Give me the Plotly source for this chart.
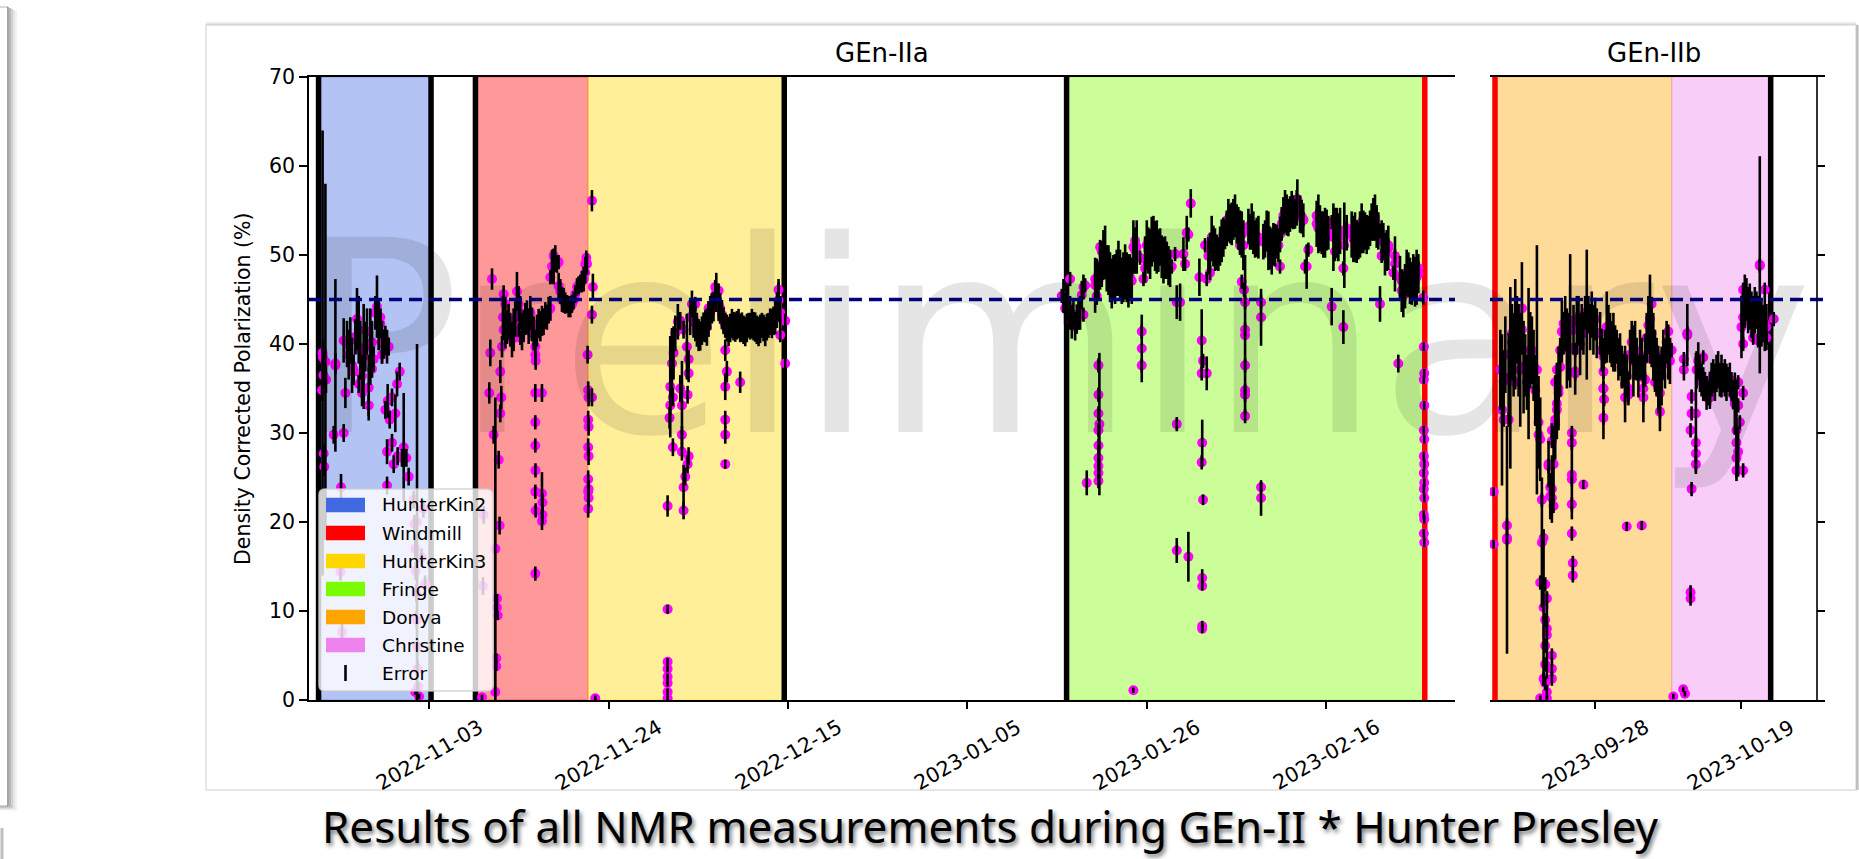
import pandas as pd
import plotly.graph_objects as go

# ------------------------------------------------------------------
# NMR polarization measurements, grouped by target cell.
# Each entry: (days after the run reference date, polarization %, error %)
# ------------------------------------------------------------------
REF_A = pd.Timestamp("2022-11-03")   # GEn-IIa reference date
REF_B = pd.Timestamp("2023-09-28")   # GEn-IIb reference date

hunterkin2 = [
    (-12.56, 34.8, 1.2), (-12.50, 39.0, 25.0), (-12.45, 38.5, 2.0), (-12.40, 36.5, 1.5),
    (-12.37, 27.7, 1.0), (-12.30, 26.2, 1.0), (-12.17, 38.0, 20.0), (-12.10, 36.0, 1.5),
    (-11.20, 29.8, 1.0), (-11.00, 37.6, 9.7), (-11.00, 37.8, 1.2), (-10.34, 23.9, 1.5),
    (-10.22, 7.6, 1.0), (-10.40, 14.4, 1.0), (-10.03, 30.0, 1.0), (-9.83, 34.5, 1.7),
    (-10.03, 40.4, 2.5), (-9.64, 40.0, 2.6), (-9.44, 38.8, 2.8), (-9.25, 40.4, 2.6),
    (-9.05, 37.6, 3.1), (-8.86, 37.1, 1.7), (-8.66, 40.8, 2.0), (-8.47, 42.8, 3.5),
    (-8.27, 41.6, 3.8), (-8.08, 39.3, 3.3), (-7.88, 36.4, 2.4), (-7.69, 38.6, 5.9),
    (-7.49, 39.7, 2.8), (-7.30, 41.4, 2.6), (-7.10, 35.1, 3.7), (-6.91, 39.7, 4.3),
    (-6.71, 40.2, 2.4), (-6.52, 38.3, 1.4), (-6.32, 43.5, 1.9), (-6.13, 44.2, 3.5),
    (-5.93, 42.1, 2.8), (-5.74, 42.3, 1.65), (-5.54, 40.2, 2.4), (-5.35, 40.0, 1.65),
    (-5.15, 40.4, 1.65), (-4.95, 39.7, 1.9), (-8.86, 36.9, 1.0), (-8.27, 35.5, 1.0),
    (-7.88, 34.5, 1.5), (-7.10, 33.1, 1.2), (-6.71, 37.2, 1.0), (-5.74, 43.0, 1.0),
    (-5.54, 38.8, 1.0), (-4.76, 39.7, 1.0), (-5.15, 32.6, 1.0), (-4.88, 33.6, 1.9),
    (-4.64, 31.5, 1.0), (-4.37, 34.0, 1.0), (-3.98, 32.2, 2.1), (-3.78, 35.5, 1.4),
    (-3.47, 36.9, 1.0), (-4.95, 27.9, 1.4), (-4.37, 28.9, 1.0), (-4.17, 26.5, 1.0),
    (-3.71, 27.4, 1.0), (-3.20, 27.2, 1.0), (-3.00, 28.4, 6.1), (-2.69, 27.2, 1.0),
    (-2.42, 25.1, 1.0), (-4.95, 24.1, 1.0), (-1.44, 20.0, 20.0), (-1.83, 22.5, 1.0),
    (-1.75, 19.8, 1.0), (-1.64, 17.0, 1.0), (-1.60, 14.5, 1.0), (-1.52, 12.0, 1.0),
    (-1.48, 9.0, 1.0), (-1.40, 6.0, 1.0), (-1.37, 3.5, 1.0), (-1.30, 1.5, 0.5),
    (-1.20, 0.4, 0.3), (-1.64, 0.9, 0.3), (-0.90, 16.0, 1.0), (-0.70, 21.5, 1.0),
    (-0.50, 13.0, 1.0),
]

windmill = [
    (6.17, 0.3, 0.3), (6.28, 12.8, 1.0), (6.36, 20.8, 1.0), (7.02, 34.5, 1.2),
    (7.14, 39.0, 1.5), (7.34, 47.3, 1.2), (7.53, 29.8, 1.0), (7.73, 17.0, 17.0),
    (7.84, 4.7, 0.5), (7.84, 3.8, 0.5), (7.73, 0.9, 0.3), (7.92, 11.4, 0.5),
    (7.92, 10.4, 0.5), (8.00, 9.5, 0.5), (8.12, 27.0, 1.0), (8.23, 19.6, 1.0),
    (8.31, 36.9, 1.3), (8.43, 34.0, 1.3), (8.31, 32.2, 1.0), (8.51, 39.7, 1.2),
    (8.70, 41.6, 1.2), (8.70, 45.6, 1.0), (8.62, 43.0, 2.4), (8.90, 41.6, 2.1),
    (9.09, 41.9, 1.9), (9.28, 42.5, 2.0), (9.48, 41.6, 1.9), (9.68, 40.5, 2.0),
    (9.87, 41.6, 2.4), (10.07, 42.8, 2.0), (10.26, 45.9, 2.2), (10.46, 44.5, 2.0),
    (10.65, 43.5, 1.9), (10.85, 41.4, 2.1), (11.04, 42.0, 1.8), (11.24, 42.8, 1.8),
    (11.43, 43.0, 1.9), (11.63, 42.0, 2.0), (11.82, 43.5, 1.9), (12.02, 42.2, 1.9),
    (12.21, 41.2, 1.9), (12.41, 39.7, 1.9), (12.60, 41.5, 1.8), (12.80, 42.3, 1.65),
    (13.00, 42.0, 1.7), (13.19, 42.6, 1.7), (13.38, 42.5, 1.5), (13.58, 43.2, 1.5),
    (13.77, 43.0, 1.4), (13.97, 43.8, 1.5), (14.17, 44.0, 1.4), (14.36, 48.7, 1.9),
    (14.56, 48.7, 2.0), (14.75, 49.6, 1.5), (14.94, 49.0, 1.0), (15.14, 46.5, 1.5),
    (15.34, 45.9, 1.4), (15.53, 45.0, 1.4), (15.73, 44.9, 1.4), (15.92, 44.6, 1.2),
    (16.12, 44.5, 1.0), (16.31, 44.2, 1.2), (16.51, 44.2, 1.2), (16.70, 44.5, 1.0),
    (16.90, 44.9, 1.0), (17.09, 45.6, 1.0), (17.29, 46.4, 1.0), (17.48, 46.6, 1.0),
    (17.68, 46.8, 1.0), (17.87, 47.0, 1.2), (18.07, 47.3, 1.4), (18.26, 48.0, 1.2),
    (18.46, 49.0, 1.2), (12.41, 38.8, 1.0), (12.45, 38.1, 1.0), (12.41, 34.5, 1.0),
    (12.41, 31.2, 0.8), (12.41, 28.6, 0.8), (12.43, 25.8, 0.8), (12.41, 23.4, 0.8),
    (12.45, 21.3, 0.8), (12.41, 14.2, 0.8), (13.19, 34.5, 1.0), (13.19, 23.2, 2.4),
    (13.25, 22.2, 1.0), (13.25, 20.8, 1.0), (13.19, 20.1, 1.0), (8.90, 44.5, 0.8),
    (9.09, 41.6, 0.8), (9.87, 40.7, 0.8), (10.46, 41.6, 0.8), (10.65, 40.7, 0.8),
    (11.82, 43.5, 0.8), (12.02, 41.2, 0.8), (13.77, 43.5, 0.8), (14.17, 47.5, 0.8),
    (14.56, 49.9, 0.8), (15.14, 49.2, 0.8), (15.92, 44.7, 0.8), (16.70, 44.5, 0.8),
    (17.48, 46.4, 0.8), (18.07, 47.3, 0.8), (18.26, 49.0, 0.8), (18.38, 49.7, 0.8),
]

hunterkin3 = [
    (18.53, 38.8, 1.0), (18.60, 34.8, 1.0), (18.65, 34.0, 1.0), (18.60, 31.5, 1.0),
    (18.65, 30.7, 1.0), (18.60, 28.4, 1.0), (18.65, 27.4, 1.0), (18.60, 24.8, 1.0),
    (18.65, 23.7, 1.0), (18.60, 23.4, 1.0), (18.65, 22.7, 1.0), (18.60, 21.5, 1.0),
    (19.04, 56.1, 1.2), (19.15, 46.4, 1.5), (19.04, 43.3, 1.0), (19.04, 34.0, 1.0),
    (19.43, 0.2, 0.3), (27.90, 21.8, 1.2), (27.90, 10.2, 0.5), (27.90, 4.3, 0.4),
    (27.90, 3.5, 0.4), (27.90, 2.6, 0.4), (27.90, 1.9, 0.4), (27.90, 0.9, 0.4),
    (27.90, 0.2, 0.3), (28.13, 31.7, 1.2), (28.21, 33.1, 1.0), (28.21, 35.2, 5.7),
    (28.52, 34.0, 1.0), (28.41, 37.8, 4.0), (28.60, 39.0, 3.0), (28.80, 41.2, 2.0),
    (28.52, 28.4, 1.0), (29.58, 29.8, 1.0), (29.58, 27.9, 1.0), (30.36, 27.4, 1.0),
    (30.24, 26.5, 1.0), (29.97, 25.1, 1.0), (29.77, 23.9, 2.5), (29.77, 21.3, 1.0),
    (29.38, 35.0, 1.5), (29.58, 33.1, 5.0), (30.24, 34.3, 1.0), (30.36, 36.7, 1.0),
    (30.36, 38.3, 1.0), (30.16, 39.7, 3.7), (29.77, 41.6, 1.0), (29.38, 42.6, 1.0),
    (29.10, 42.5, 2.0), (30.75, 44.5, 1.5), (30.55, 43.0, 2.0), (30.94, 42.8, 2.1),
    (31.14, 42.3, 2.0), (31.33, 41.6, 1.9), (31.53, 41.0, 1.8), (31.72, 40.9, 1.65),
    (31.92, 41.5, 1.6), (32.11, 41.9, 1.65), (32.31, 42.0, 1.8), (32.50, 41.9, 2.1),
    (32.70, 42.8, 2.0), (32.89, 43.5, 1.9), (33.09, 44.0, 1.7), (33.28, 44.2, 1.65),
    (33.48, 45.5, 1.6), (33.60, 45.8, 2.2), (33.87, 44.5, 1.9), (34.06, 44.0, 1.7),
    (34.26, 43.3, 1.65), (34.45, 42.6, 1.5), (34.65, 42.1, 1.4), (34.84, 41.8, 1.5),
    (35.04, 41.4, 1.65), (35.23, 41.8, 1.6), (35.43, 42.3, 1.65), (35.62, 42.0, 1.6),
    (35.82, 41.9, 1.65), (36.01, 42.1, 1.6), (36.21, 42.3, 1.65), (36.40, 41.8, 1.6),
    (36.60, 41.9, 1.65), (36.79, 41.6, 1.6), (36.99, 41.4, 1.65), (37.18, 41.8, 1.6),
    (37.38, 42.1, 1.4), (37.57, 42.0, 1.5), (37.77, 42.3, 1.65), (37.96, 42.0, 1.6),
    (38.16, 41.9, 1.65), (38.35, 41.6, 1.6), (38.55, 41.4, 1.65), (38.74, 41.7, 1.6),
    (38.94, 42.1, 1.4), (39.13, 41.8, 1.5), (39.33, 41.4, 1.65), (39.52, 41.9, 1.5),
    (39.72, 42.1, 1.4), (39.91, 42.5, 1.5), (40.11, 42.3, 1.65), (40.30, 42.6, 1.6),
    (40.50, 43.0, 1.9), (40.70, 43.8, 2.0), (40.89, 44.9, 2.4), (41.09, 43.5, 1.9),
    (31.14, 44.5, 0.8), (32.70, 44.0, 0.8), (33.48, 46.4, 0.8), (33.87, 46.0, 0.8),
    (34.45, 42.6, 0.8), (34.84, 41.6, 0.8), (34.65, 39.3, 1.2), (34.84, 36.9, 1.2),
    (34.65, 35.2, 1.5), (34.65, 31.5, 1.0), (34.65, 29.8, 1.0), (34.65, 26.5, 0.5),
    (36.40, 35.7, 1.2), (40.89, 46.1, 0.8), (41.67, 42.6, 0.8), (41.67, 37.8, 0.8),
    (41.09, 41.0, 0.8),
]

fringe = [
    (74.06, 45.4, 0.8), (74.25, 45.4, 1.9), (74.45, 44.0, 1.8), (74.64, 44.5, 1.9),
    (74.84, 43.5, 1.8), (75.03, 43.5, 1.9), (75.23, 42.5, 1.9), (75.42, 43.3, 1.65),
    (75.62, 42.0, 1.6), (75.81, 42.8, 1.65), (76.01, 43.3, 1.7), (76.20, 43.5, 1.9),
    (76.40, 45.5, 1.6), (76.59, 46.4, 1.4), (75.03, 47.3, 0.8), (76.59, 43.3, 0.8),
    (76.79, 46.6, 0.8), (76.98, 24.4, 1.4), (77.96, 47.3, 0.8), (78.15, 45.4, 0.8),
    (78.35, 37.6, 0.8), (78.35, 34.3, 0.8), (78.35, 32.2, 0.8), (78.35, 30.3, 0.8),
    (78.35, 28.6, 0.8), (78.35, 27.2, 0.8), (78.35, 26.3, 0.8), (78.35, 25.5, 0.8),
    (78.35, 24.6, 0.8), (78.46, 31.0, 8.0), (77.96, 46.6, 3.1), (78.15, 47.0, 2.6),
    (78.35, 47.1, 2.1), (78.54, 48.5, 2.4), (78.74, 49.0, 2.6), (78.93, 50.0, 2.8),
    (79.13, 50.3, 3.0), (79.32, 48.5, 2.6), (79.52, 48.3, 2.8), (79.71, 47.5, 2.8),
    (79.91, 46.8, 2.8), (80.10, 47.5, 2.5), (80.30, 47.3, 2.8), (80.49, 48.0, 2.6),
    (80.69, 48.5, 3.1), (80.88, 47.8, 2.8), (81.08, 47.1, 2.6), (81.27, 47.5, 2.8),
    (81.47, 48.1, 3.1), (81.66, 47.5, 2.8), (81.86, 47.1, 3.0), (82.05, 47.5, 2.6),
    (82.25, 47.1, 2.6), (82.44, 50.9, 3.0), (82.64, 50.5, 2.6), (82.83, 50.9, 3.0),
    (83.42, 39.5, 3.8), (83.42, 41.4, 0.8), (83.42, 37.6, 0.8), (82.64, 51.6, 0.8),
    (83.22, 49.7, 0.8), (83.62, 47.3, 0.8), (78.54, 50.9, 0.8), (78.74, 50.4, 0.8),
    (80.10, 48.3, 0.8), (82.44, 1.1, 0.3), (83.81, 49.5, 2.6), (84.01, 51.1, 2.8),
    (84.20, 50.5, 2.6), (84.40, 50.1, 2.8), (84.59, 51.5, 2.8), (84.79, 51.8, 2.6),
    (84.98, 51.0, 2.8), (85.18, 50.9, 3.0), (85.37, 50.5, 2.4), (85.57, 50.9, 2.1),
    (85.76, 49.8, 2.4), (85.96, 49.4, 2.6), (86.15, 49.7, 2.4), (86.35, 49.4, 2.1),
    (86.55, 48.8, 2.2), (86.74, 48.5, 2.1), (83.81, 48.5, 0.8), (84.20, 51.6, 0.8),
    (85.57, 49.7, 0.8), (86.93, 48.7, 0.8), (87.32, 50.1, 0.8), (87.52, 44.7, 1.9),
    (87.52, 31.0, 0.8), (87.52, 16.8, 1.4), (87.91, 44.7, 2.1), (88.30, 50.1, 1.9),
    (88.49, 49.0, 0.8), (88.69, 52.5, 1.9), (88.88, 52.3, 0.8), (88.88, 16.1, 2.8),
    (89.16, 55.8, 1.6), (90.17, 47.5, 2.1), (90.44, 40.4, 3.5), (90.60, 38.1, 0.8),
    (90.44, 36.7, 0.8), (90.50, 28.9, 2.6), (90.44, 26.7, 0.8), (90.60, 22.5, 0.6),
    (90.50, 13.7, 1.0), (90.50, 12.8, 0.5), (90.50, 8.3, 0.6), (90.50, 8.0, 0.5),
    (91.03, 36.7, 1.9), (90.83, 51.1, 0.8), (91.03, 47.3, 0.8), (91.22, 49.9, 2.1),
    (91.42, 50.5, 2.0), (91.61, 52.0, 2.4), (91.81, 51.0, 2.3), (92.00, 50.6, 2.4),
    (92.20, 50.3, 2.0), (92.39, 50.1, 1.9), (92.59, 51.0, 2.2), (92.78, 51.6, 2.4),
    (92.98, 52.0, 2.2), (93.17, 52.3, 1.65), (93.37, 53.0, 2.0), (93.56, 53.9, 2.4),
    (93.76, 53.5, 2.2), (93.95, 53.5, 2.4), (94.15, 54.0, 2.3), (94.34, 54.4, 2.4),
    (94.54, 53.5, 2.2), (94.73, 53.0, 2.4), (94.93, 52.5, 2.5), (95.13, 52.3, 2.6),
    (95.32, 51.1, 2.8), (91.42, 48.0, 0.8), (91.61, 50.1, 0.8), (92.98, 52.3, 0.8),
    (93.37, 53.9, 0.8), (94.93, 51.1, 0.8), (95.13, 47.0, 0.8), (95.40, 46.1, 0.8),
    (95.52, 44.7, 0.8), (95.52, 41.6, 0.8), (95.52, 37.6, 0.8), (95.52, 34.8, 0.8),
    (95.52, 34.3, 0.8), (95.52, 31.9, 0.8), (95.52, 41.0, 9.0), (95.91, 53.2, 2.0),
    (96.10, 52.6, 2.0), (96.30, 53.2, 2.6), (96.49, 52.5, 2.4), (96.69, 51.8, 2.1),
    (96.88, 52.0, 2.2), (97.08, 52.0, 2.4), (97.39, 43.0, 3.2), (97.39, 44.7, 0.8),
    (97.39, 23.9, 0.6), (97.39, 22.7, 2.0), (97.66, 51.5, 2.0), (97.86, 51.8, 2.1),
    (98.05, 52.7, 2.3), (98.25, 51.6, 3.3), (98.44, 50.8, 2.4), (98.64, 50.4, 2.6),
    (98.83, 51.2, 2.4), (99.03, 51.1, 2.4), (99.22, 51.5, 1.9), (99.42, 51.1, 1.9),
    (99.61, 52.3, 2.0), (99.81, 53.5, 1.9), (100.00, 54.4, 2.1), (100.20, 54.9, 2.4),
    (100.39, 54.5, 2.3), (100.59, 54.2, 2.1), (100.78, 54.6, 2.0), (100.98, 55.1, 2.1),
    (101.17, 54.8, 1.9), (101.37, 54.6, 1.65), (101.56, 55.3, 2.0), (101.64, 56.3, 2.2),
    (101.95, 54.6, 2.1), (102.15, 54.3, 1.9), (102.34, 53.9, 1.9), (102.73, 48.7, 2.5),
    (98.05, 52.7, 0.8), (99.61, 48.7, 0.8), (102.34, 54.0, 0.8), (102.54, 48.7, 0.8),
    (102.93, 50.6, 0.8), (103.90, 53.5, 2.6), (104.10, 53.5, 3.3), (104.29, 53.0, 2.6),
    (104.49, 52.5, 2.4), (104.68, 52.3, 2.6), (104.88, 52.5, 2.8), (105.07, 52.8, 2.3),
    (105.27, 52.5, 1.9), (105.66, 44.2, 2.1), (105.86, 52.0, 3.8), (106.05, 52.3, 3.0),
    (106.25, 52.5, 2.8), (106.44, 52.0, 2.7), (106.64, 52.7, 2.6), (107.03, 41.9, 1.9),
    (107.14, 51.1, 4.8), (107.42, 52.5, 2.0), (103.90, 54.4, 0.8), (104.10, 53.0, 0.8),
    (105.66, 53.7, 0.8), (106.05, 50.4, 0.8), (107.03, 48.5, 0.8), (107.42, 53.0, 0.8),
    (108.00, 52.3, 2.6), (108.20, 51.8, 2.6), (108.39, 52.0, 2.8), (108.59, 51.5, 2.4),
    (108.78, 51.6, 2.1), (108.98, 52.3, 2.6), (109.17, 53.0, 2.8), (109.37, 52.6, 2.4),
    (109.56, 52.7, 2.1), (109.76, 52.3, 2.2), (109.95, 52.5, 1.9), (110.15, 53.0, 2.0),
    (110.34, 53.7, 2.1), (110.54, 54.0, 2.4), (110.73, 54.2, 2.6), (110.93, 53.2, 2.4),
    (111.12, 52.7, 2.1), (111.32, 44.5, 2.0), (111.51, 52.0, 1.9), (111.71, 51.5, 2.1),
    (111.90, 50.1, 2.4), (112.10, 50.5, 2.3), (112.29, 50.8, 2.5), (108.98, 53.5, 0.8),
    (110.73, 53.9, 0.8), (111.32, 52.7, 0.8), (111.51, 49.9, 0.8), (112.29, 51.1, 0.8),
    (112.88, 48.0, 0.8), (113.07, 49.9, 0.8), (113.07, 49.0, 3.1), (113.46, 37.8, 1.0),
    (113.66, 47.5, 2.4), (113.86, 46.0, 2.4), (114.05, 45.6, 2.6), (114.25, 46.5, 2.5),
    (114.44, 48.0, 2.6), (114.64, 47.8, 2.5), (114.83, 47.1, 2.6), (115.03, 46.8, 2.4),
    (115.22, 47.5, 2.6), (115.42, 47.0, 2.8), (115.61, 47.5, 3.1), (115.81, 47.9, 2.2),
    (113.86, 47.1, 0.8), (114.25, 45.6, 0.8), (115.81, 48.5, 0.8), (116.39, 45.2, 0.8),
    (116.45, 39.7, 0.5), (116.50, 36.7, 0.5), (116.45, 36.0, 0.5), (116.50, 33.1, 0.5),
    (116.45, 30.3, 0.5), (116.50, 29.3, 0.5), (116.45, 27.4, 0.5), (116.50, 26.5, 0.5),
    (116.45, 25.5, 0.5), (116.50, 24.4, 0.5), (116.45, 23.7, 0.5), (116.50, 22.7, 0.5),
    (116.45, 20.8, 0.5), (116.50, 20.3, 0.5), (116.45, 18.7, 0.5), (116.50, 17.7, 0.5),
]

donya = [
    (-14.62, 23.4, 0.5), (-14.62, 17.5, 0.5), (-13.66, 37.1, 4.5), (-13.42, 32.6, 8.5),
    (-13.18, 35.8, 3.5), (-12.94, 38.8, 4.3), (-12.70, 18.0, 12.8), (-12.46, 36.2, 5.0),
    (-12.22, 36.2, 10.2), (-11.98, 40.2, 4.3), (-11.75, 38.8, 4.7), (-11.51, 41.9, 5.4),
    (-11.27, 41.6, 3.8), (-11.03, 39.3, 5.2), (-10.79, 37.1, 6.4), (-10.55, 44.0, 5.2),
    (-10.31, 37.4, 5.2), (-10.07, 37.6, 3.5), (-9.83, 35.7, 3.1), (-9.59, 37.8, 8.5),
    (-9.35, 39.3, 4.3), (-9.11, 39.3, 3.8), (-8.87, 37.6, 4.0), (-8.63, 34.8, 4.0),
    (-8.39, 37.1, 14.0), (-8.15, 31.2, 5.2), (-7.91, 29.3, 4.7), (-13.18, 31.5, 0.8),
    (-12.46, 31.5, 0.8), (-12.70, 19.6, 0.8), (-12.70, 18.2, 0.8), (-11.98, 41.2, 0.8),
    (-11.51, 35.7, 0.8), (-10.55, 41.6, 0.8), (-9.35, 38.1, 0.8), (-8.15, 29.8, 0.8),
    (-7.67, 22.5, 0.8), (-7.43, 18.2, 0.8), (-7.91, 13.2, 0.8), (-7.19, 13.0, 0.8),
    (-6.95, 11.4, 0.8), (-7.19, 9.0, 0.8), (-6.95, 8.0, 0.8), (-7.19, 6.1, 0.8),
    (-6.23, 5.0, 0.8), (-7.19, 4.0, 0.8), (-6.23, 3.5, 0.8), (-7.43, 2.4, 0.8),
    (-7.19, 1.9, 0.8), (-6.23, 2.4, 0.8), (-6.95, 0.9, 0.8), (-7.91, 0.2, 0.3),
    (-6.95, 0.2, 0.3), (-7.67, 17.7, 7.3), (-7.43, 10.4, 8.8), (-6.95, 7.3, 4.9),
    (-6.71, 26.5, 2.6), (-6.47, 22.9, 2.6), (-6.23, 23.7, 3.8), (-5.99, 26.5, 4.3),
    (-5.75, 31.0, 4.0), (-5.51, 33.3, 4.0), (-5.27, 35.0, 4.7), (-5.03, 37.4, 3.3),
    (-6.47, 23.9, 0.8), (-6.23, 22.7, 0.8), (-5.99, 21.8, 0.8), (-6.71, 26.3, 0.8),
    (-6.23, 29.1, 0.8), (-6.23, 30.3, 0.8), (-5.75, 31.5, 0.8), (-5.51, 32.6, 0.8),
    (-5.27, 34.5, 0.8), (-5.75, 35.7, 0.8), (-5.51, 37.1, 0.8), (-5.03, 39.3, 0.8),
    (-4.79, 41.4, 3.5), (-4.55, 41.2, 2.4), (-4.31, 42.3, 3.1), (-4.07, 39.5, 4.5),
    (-3.83, 39.7, 3.8), (-3.59, 42.6, 7.5), (-3.11, 41.6, 2.8), (-2.87, 36.9, 2.6),
    (-2.63, 42.1, 3.3), (-2.39, 42.6, 2.8), (-2.16, 40.0, 3.5), (-1.92, 41.9, 2.6),
    (-1.68, 41.2, 2.4), (-1.44, 43.5, 1.9), (-1.20, 43.3, 7.3), (-0.96, 43.3, 2.1),
    (-0.72, 41.9, 2.6), (-0.48, 43.3, 2.6), (-0.24, 41.6, 2.8), (0.00, 42.8, 2.4),
    (0.24, 41.2, 2.8), (-3.35, 30.0, 0.8), (-3.35, 28.9, 0.8), (-3.35, 24.8, 0.8),
    (-3.35, 22.0, 0.8), (-3.35, 18.7, 0.8), (-3.21, 15.4, 0.8), (-3.21, 14.0, 0.8),
    (-3.35, 25.3, 5.0), (-4.55, 42.3, 0.8), (-4.07, 41.2, 0.8), (-2.87, 39.3, 0.8),
    (-2.63, 42.8, 0.8), (-2.16, 41.9, 0.8), (-1.68, 24.2, 0.5), (-2.87, 36.7, 0.8),
    (0.72, 41.2, 2.4), (0.96, 39.3, 2.4), (1.20, 35.0, 5.7), (1.44, 39.7, 1.9),
    (1.68, 41.9, 4.0), (1.92, 41.6, 2.8), (2.16, 40.7, 2.8), (2.40, 40.0, 2.6),
    (2.64, 40.2, 3.3), (2.88, 39.5, 2.6), (3.12, 39.7, 1.9), (3.36, 38.3, 2.4),
    (3.60, 38.8, 2.4), (3.84, 37.4, 2.4), (4.08, 37.0, 1.9), (4.32, 35.5, 4.3),
    (4.56, 36.4, 2.4), (4.80, 35.0, 1.9), (5.04, 38.8, 2.8), (5.28, 40.2, 2.4),
    (5.52, 38.1, 4.0), (5.76, 39.3, 3.3), (6.00, 38.3, 2.4), (6.24, 36.4, 2.4),
    (6.48, 38.8, 2.8), (6.72, 38.3, 2.4), (6.96, 35.0, 3.8), (7.20, 38.3, 2.8),
    (7.44, 40.7, 2.8), (7.68, 42.1, 3.3), (7.91, 42.8, 5.0), (8.15, 41.2, 3.8),
    (8.39, 39.7, 3.8), (8.63, 38.1, 3.5), (8.87, 37.4, 3.3), (9.11, 36.0, 3.8),
    (9.35, 34.5, 4.3), (9.59, 36.4, 3.3), (9.83, 38.8, 2.8), (10.07, 37.8, 2.8),
    (10.31, 40.2, 2.4), (10.55, 38.8, 2.8), (10.79, 38.1, 2.6), (1.20, 36.9, 0.8),
    (1.20, 35.0, 0.8), (1.30, 33.8, 0.8), (1.20, 31.7, 0.8), (0.96, 39.3, 0.8),
    (1.20, 38.6, 0.8), (4.32, 34.0, 0.8), (4.80, 34.3, 0.8), (6.96, 34.0, 0.8),
    (7.20, 36.0, 0.8), (8.63, 35.7, 0.8), (9.35, 32.4, 0.8), (8.15, 44.5, 0.8),
    (10.55, 41.4, 0.8), (11.03, 39.3, 0.8), (4.56, 19.5, 0.5), (6.72, 19.6, 0.5),
]

christine = [
    (11.27, 0.4, 0.3), (12.71, 1.2, 0.3), (12.95, 0.7, 0.3), (13.29, 41.0, 3.5),
    (13.29, 41.2, 0.8), (12.80, 38.3, 0.8), (12.80, 37.1, 1.2), (13.91, 34.1, 0.8),
    (13.91, 32.2, 0.8), (13.76, 30.3, 0.8), (14.53, 28.9, 0.8), (14.53, 27.7, 0.8),
    (14.53, 26.5, 0.8), (13.91, 23.7, 0.8), (13.76, 12.1, 0.8), (13.76, 11.4, 0.8),
    (14.53, 32.2, 6.8), (14.63, 37.1, 2.1), (14.87, 38.1, 2.1), (15.11, 36.7, 2.1),
    (15.35, 36.0, 1.9), (15.59, 35.5, 1.9), (15.83, 35.2, 1.65), (16.07, 34.5, 1.9),
    (16.31, 34.5, 1.4), (16.55, 34.8, 2.1), (16.79, 36.0, 1.9), (17.03, 36.4, 1.9),
    (17.27, 35.7, 2.1), (17.50, 36.7, 2.1), (17.74, 37.1, 2.1), (17.98, 36.0, 1.9),
    (18.22, 36.4, 2.4), (18.46, 36.2, 1.65), (18.70, 36.2, 2.1), (18.94, 35.7, 2.1),
    (19.18, 36.0, 1.4), (19.42, 36.0, 1.9), (19.66, 35.2, 1.65), (19.90, 34.3, 1.65),
    (20.14, 33.3, 3.5), (20.38, 30.3, 5.7), (20.62, 27.9, 2.8), (20.62, 35.7, 0.8),
    (21.34, 34.5, 0.8), (20.62, 33.1, 0.8), (20.86, 31.2, 0.8), (20.38, 28.9, 0.8),
    (20.38, 27.2, 0.8), (20.38, 25.8, 0.8), (21.34, 25.8, 0.8), (15.59, 38.5, 0.8),
    (16.55, 34.0, 0.8), (21.10, 41.9, 3.5), (21.34, 43.0, 3.3), (21.58, 45.2, 2.6),
    (21.82, 45.0, 2.4), (22.06, 43.8, 2.6), (22.30, 44.2, 2.6), (22.54, 43.3, 2.6),
    (22.78, 42.8, 2.6), (23.02, 43.8, 2.6), (23.26, 43.8, 2.1), (23.50, 42.6, 2.8),
    (23.74, 48.9, 12.2), (23.98, 42.3, 2.6), (24.22, 42.3, 2.1), (24.46, 42.3, 3.1),
    (24.70, 41.9, 2.6), (21.34, 46.1, 0.8), (21.58, 42.6, 0.8), (21.34, 40.0, 0.8),
    (23.74, 48.8, 0.8), (24.46, 46.1, 0.8), (24.70, 40.7, 0.8), (25.75, 42.8, 0.8),
    (22.78, 40.7, 0.8), (23.50, 40.4, 0.8),
]

# Cell periods (days after reference) and their colours
periods_a = [("HunterKin2", "65,105,225", -12.97, 0.20),
             ("Windmill", "255,0,0", 5.40, 18.58),
             ("HunterKin3", "255,215,0", 18.58, 41.56),
             ("Fringe", "124,252,0", 74.62, 116.56)]
periods_b = [("Donya", "255,165,0", -14.43, 11.04),
             ("Christine", "238,130,238", 11.04, 25.31)]

# Cell changes (days after reference, colour)
changes_a = [(-12.97, "black"), (0.20, "black"), (5.40, "black"),
             (41.56, "black"), (74.62, "black"), (116.56, "red")]
changes_b = [(-14.43, "red"), (25.31, "black")]

target_pol = 45.0
ticks_a = ["2022-11-03", "2022-11-24", "2022-12-15", "2023-01-05", "2023-01-26", "2023-02-16"]
ticks_b = ["2023-09-28", "2023-10-19"]
y_ticks = [0, 10, 20, 30, 40, 50, 60, 70]

legend_items = [("HunterKin2", "#4169E1"), ("Windmill", "#FF0000"), ("HunterKin3", "#FFD700"),
                ("Fringe", "#7CFC00"), ("Donya", "#FFA500"), ("Christine", "#EE82EE")]

# ------------------------------------------------------------------
W, H = 1859, 859
FONT = "DejaVu Sans"


def px(x):
    return x / W


def py(y):
    return 1 - y / H


def to_time(ref, d):
    return ref + pd.to_timedelta(d, unit="D")


XA_DOM = [px(309), px(1455)]
XB_DOM = [px(1490), px(1825)]
Y_DOM = [py(700), py(77)]

fig = go.Figure()


def add_cells(rows, ref, xa, ya):
    t = [to_time(ref, r[0]) for r in rows]
    p = [r[1] for r in rows]
    e = [r[2] for r in rows]
    fig.add_trace(go.Scatter(x=t, y=p, mode="markers", xaxis=xa, yaxis=ya,
                             marker=dict(color="#FF00FF", size=10, line=dict(width=0)),
                             hoverinfo="skip", showlegend=False))
    fig.add_trace(go.Scatter(x=t, y=p, mode="markers", xaxis=xa, yaxis=ya,
                             marker=dict(color="rgba(0,0,0,0)", size=1),
                             error_y=dict(type="data", array=e, visible=True,
                                          color="black", thickness=2.6, width=0),
                             hoverinfo="skip", showlegend=False))


for rows in (hunterkin2, windmill, hunterkin3, fringe):
    add_cells(rows, REF_A, "x", "y")
for rows in (donya, christine):
    add_cells(rows, REF_B, "x2", "y2")

shapes = []
# shaded cell periods
for periods, ref, xr, yr in ((periods_a, REF_A, "x", "y domain"), (periods_b, REF_B, "x2", "y2 domain")):
    for name, rgb, d0, d1 in periods:
        shapes.append(dict(type="rect", xref=xr, yref=yr,
                           x0=to_time(ref, d0), x1=to_time(ref, d1), y0=0, y1=1,
                           fillcolor=f"rgba({rgb},0.4)",
                           line=dict(color=f"rgba({rgb},0.4)", width=1.2), layer="below"))
# cell change markers
for changes, ref, xr, yr in ((changes_a, REF_A, "x", "y domain"), (changes_b, REF_B, "x2", "y2 domain")):
    for d, col in changes:
        t = to_time(ref, d)
        shapes.append(dict(type="line", xref=xr, yref=yr, x0=t, x1=t, y0=0, y1=1,
                           line=dict(color=col, width=5.5), layer="below"))
# target polarization
for xr, yr in (("x domain", "y"), ("x2 domain", "y2")):
    shapes.append(dict(type="line", xref=xr, yref=yr, x0=0, x1=1, y0=target_pol, y1=target_pol,
                       line=dict(color="#000080", width=3.3, dash="13px,7px"), layer="above"))

# right-hand frame line of the second panel
shapes.append(dict(type="line", xref="paper", yref="paper", x0=px(1817), x1=px(1817),
                   y0=Y_DOM[0], y1=Y_DOM[1], line=dict(color="black", width=1.6)))

# slide decorations: chart frame and neighbouring panel edge
shapes.append(dict(type="rect", xref="paper", yref="paper", x0=px(206), x1=px(1856), y0=py(790), y1=py(25),
                   line=dict(color="rgba(0,0,0,0.13)", width=1.5), layer="below"))
for i, a in enumerate((0.22, 0.14, 0.07)):
    shapes.append(dict(type="line", xref="paper", yref="paper", x0=px(1857 + i), x1=px(1857 + i),
                       y0=py(790), y1=py(25), line=dict(color=f"rgba(0,0,0,{a})", width=1.5)))
    shapes.append(dict(type="line", xref="paper", yref="paper", x0=px(206), x1=px(1856),
                       y0=py(24 - i), y1=py(24 - i), line=dict(color=f"rgba(0,0,0,{a * 0.6})", width=1)))
shapes.append(dict(type="line", xref="paper", yref="paper", x0=0, x1=px(8), y0=py(7), y1=py(7),
                   line=dict(color="rgba(0,0,0,0.2)", width=1.5)))
for i, a in enumerate((0.35, 0.28, 0.18, 0.1, 0.05)):
    shapes.append(dict(type="line", xref="paper", yref="paper", x0=px(8 + 2 * i), x1=px(8 + 2 * i),
                       y0=py(806 + i), y1=py(7 + i), line=dict(color=f"rgba(0,0,0,{a})", width=2)))
    shapes.append(dict(type="line", xref="paper", yref="paper", x0=0, x1=px(8 + 2 * i),
                       y0=py(806 + i), y1=py(806 + i), line=dict(color=f"rgba(0,0,0,{a})", width=1)))
shapes.append(dict(type="line", xref="paper", yref="paper", x0=px(2), x1=px(2), y0=py(828), y1=0,
                   line=dict(color="rgba(0,0,0,0.25)", width=3)))


# legend box (rounded)
def rounded_rect(x0, y0, x1, y1, r):
    rx, ry = r / W, r / H
    X0, X1, Y0, Y1 = px(x0), px(x1), py(y1), py(y0)
    return (f"M {X0 + rx},{Y0} L {X1 - rx},{Y0} Q {X1},{Y0} {X1},{Y0 + ry} "
            f"L {X1},{Y1 - ry} Q {X1},{Y1} {X1 - rx},{Y1} L {X0 + rx},{Y1} "
            f"Q {X0},{Y1} {X0},{Y1 - ry} L {X0},{Y0 + ry} Q {X0},{Y0} {X0 + rx},{Y0} Z")


LEG_X0, LEG_Y0, LEG_X1, LEG_Y1 = 319, 489, 493, 691
ROW0, ROW_DY = 505, 28
shapes.append(dict(type="path", xref="paper", yref="paper",
                   path=rounded_rect(LEG_X0, LEG_Y0, LEG_X1, LEG_Y1, 6),
                   fillcolor="rgba(255,255,255,0.8)", line=dict(color="rgba(204,204,204,0.8)", width=1.6),
                   layer="above"))


def label(text, x, y, size, family=FONT, xanchor="center", angle=0, color="black", pad=1, **kw):
    return dict(text=text, x=x, y=y, xref=kw.pop("xref", "paper"), yref="paper",
                xanchor=xanchor, yanchor="middle", textangle=angle, showarrow=False, borderpad=pad,
                font=dict(family=family, size=size, color=color, **kw))


annotations = []
for i, (name, col) in enumerate(legend_items):
    yc = ROW0 + i * ROW_DY
    shapes.append(dict(type="rect", xref="paper", yref="paper", x0=px(326), x1=px(365),
                       y0=py(yc + 7.3), y1=py(yc - 7.3), fillcolor=col, line=dict(width=0), layer="above"))
    annotations.append(label(name, px(380), py(yc), 18.5, xanchor="left"))
yc = ROW0 + 6 * ROW_DY
shapes.append(dict(type="line", xref="paper", yref="paper", x0=px(345.5), x1=px(345.5),
                   y0=py(yc + 8), y1=py(yc - 8), line=dict(color="black", width=2.6), layer="above"))
annotations.append(label("Error", px(380), py(yc), 18.5, xanchor="left"))

# rotated date labels under each panel
for ticks, xr in ((ticks_a, "x"), (ticks_b, "x2")):
    for tk in ticks:
        annotations.append(label(tk, tk, py(755), 20.5, angle=-30, xref=xr))

# panel titles, axis title, watermark, caption
annotations += [
    label("GEn-IIa", (XA_DOM[0] + XA_DOM[1]) / 2, py(53), 26),
    label("GEn-IIb", px(1654), py(53), 26),
    label("Density Corrected Polarization (%)", px(243), py(389), 20.5, angle=-90),
    label("Preliminary", px(1055), py(339), 268, color="rgba(0,0,0,0.1)"),
    label("Results of all NMR measurements during GEn-II * Hunter Presley", px(990), py(826), 44,
          family="Noto Sans", pad=0, shadow="2px 3px 4px rgba(0,0,0,0.55)"),
]

axis_common = dict(showgrid=False, zeroline=False, showline=True, linecolor="black", linewidth=1.6,
                   ticks="outside", tickcolor="black", tickwidth=1.6)

fig.update_layout(
    width=W, height=H, autosize=False,
    margin=dict(l=0, r=0, t=0, b=0, autoexpand=False),
    paper_bgcolor="white", plot_bgcolor="rgba(0,0,0,0)",
    showlegend=False,
    xaxis=dict(**axis_common, domain=XA_DOM, anchor="y", type="date", mirror=True,
               range=[to_time(REF_A, -14.09), to_time(REF_A, 120.10)],
               tickvals=ticks_a, ticklen=7, showticklabels=False),
    yaxis=dict(**axis_common, domain=Y_DOM, anchor="x", range=[0, 70], tickvals=y_ticks, ticklen=8,
               tickfont=dict(family=FONT, size=20.5, color="black")),
    xaxis2=dict(**axis_common, domain=XB_DOM, anchor="y2", type="date", mirror=True,
                range=[to_time(REF_B, -15.15), to_time(REF_B, 33.14)],
                tickvals=ticks_b, ticklen=7, showticklabels=False),
    yaxis2=dict(showgrid=False, zeroline=False, showline=False, domain=Y_DOM, anchor="x2", side="right",
                range=[0, 70], tickvals=y_ticks, ticks="inside", ticklen=8, tickwidth=1.6,
                tickcolor="black", showticklabels=False),
    shapes=shapes,
    annotations=annotations,
)

fig.write_html("out.html")
